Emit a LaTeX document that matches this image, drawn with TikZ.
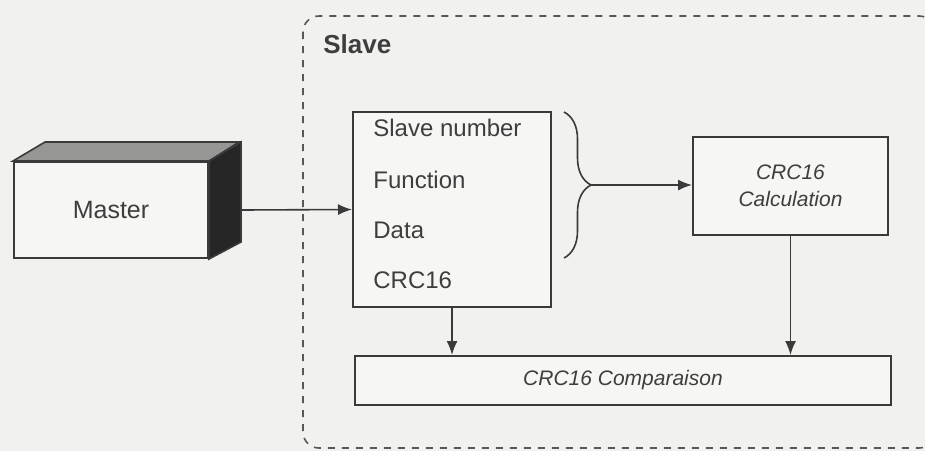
\documentclass[tikz,border=0pt]{standalone}
\usepackage{fontspec}
\setmainfont{Liberation Sans}
\usetikzlibrary{arrows.meta, positioning, calc, decorations.pathreplacing}
\definecolor{scanBack}{RGB}{241,241,239}
\definecolor{scanInk}{RGB}{58,58,58}
\definecolor{scanText}{RGB}{62,62,62}
\definecolor{scanTop}{RGB}{150,150,148}
\definecolor{scanSide}{RGB}{38,38,38}
\definecolor{scanFace}{RGB}{246,246,244}

\begin{document}
\begin{tikzpicture}[x=0.5pt, y=-0.5pt,
    box/.style={draw=scanInk, line width=1pt, inner sep=0pt, align=center, text=scanText},
    field/.style={anchor=west, inner sep=0pt, font=\fontsize{12}{14}\selectfont, text=scanText},
    calcfont/.style={font=\itshape\fontsize{10.5}{13}\selectfont},
    arrow/.style={-{Latex[length=7pt, width=5.5pt]}, line width=0.8pt, draw=scanInk}
  ]
  \fill[scanBack] (0,0) rectangle (925,451);
  \useasboundingbox (0,0) rectangle (925,451);

  % slave frame
  \draw[scanInk!85, line width=0.8pt, dash pattern=on 3.5pt off 3.5pt, rounded corners=8pt]
    (303,16) rectangle (935,448);
  \node[anchor=west, inner sep=0pt, font=\bfseries\fontsize{13}{15}\selectfont, text=scanText] (slavelbl) at (323,44) {Slave};

  % master block
  \node[box, fill=scanFace, minimum width=97pt, minimum height=48pt, font=\fontsize{12.5}{15}\selectfont] (master) at (111,210) {Master};
  \filldraw[fill=scanTop, draw=scanInk, line width=0.8pt] (master.north west) -- ++(32,-19) -- ++(194,0) -- (master.north east) -- cycle;
  \filldraw[fill=scanSide, draw=scanInk, line width=0.8pt] (master.north east) -- ++(32,-19) -- ++(0,100) -- (master.south east) -- cycle;

  % frame contents
  \node[box, fill=scanFace, minimum width=99pt, minimum height=97.5pt] (info) at (452,209.5) {};
  \node[field] (fnum) at (373,128) {Slave number};
  \node[field] (ffun) at (373,180) {Function};
  \node[field] (fdata) at (373,230) {Data};
  \node[field] (fcrc) at (373,280) {CRC16};

  \node[box, fill=scanFace, calcfont, minimum width=97.5pt, minimum height=49pt] (calc) at (790.5,186) {CRC16\\[0.5pt]Calculation};
  \node[box, fill=scanFace, calcfont, minimum width=268pt, minimum height=24.5pt] (cmp) at (623,380.5) {CRC16 Comparaison};

  \draw[scanInk, line width=0.8pt, decorate, decoration={brace, amplitude=13.5pt, aspect=0.5}]
    ($(info.north east)+(12,1)$) -- ($(info.north east)+(12,147)$);
  \coordinate (tip) at ($(info.north east)+(39,74)$);

  \draw[arrow] ([xshift=16pt]master.east) -- (info.west);
  \draw[arrow] (tip) -- (tip -| calc.west);
  \draw[arrow] (info.south) -- (info.south |- cmp.north);
  \draw[arrow] (calc.south) -- (calc.south |- cmp.north);
\end{tikzpicture}
\end{document}
